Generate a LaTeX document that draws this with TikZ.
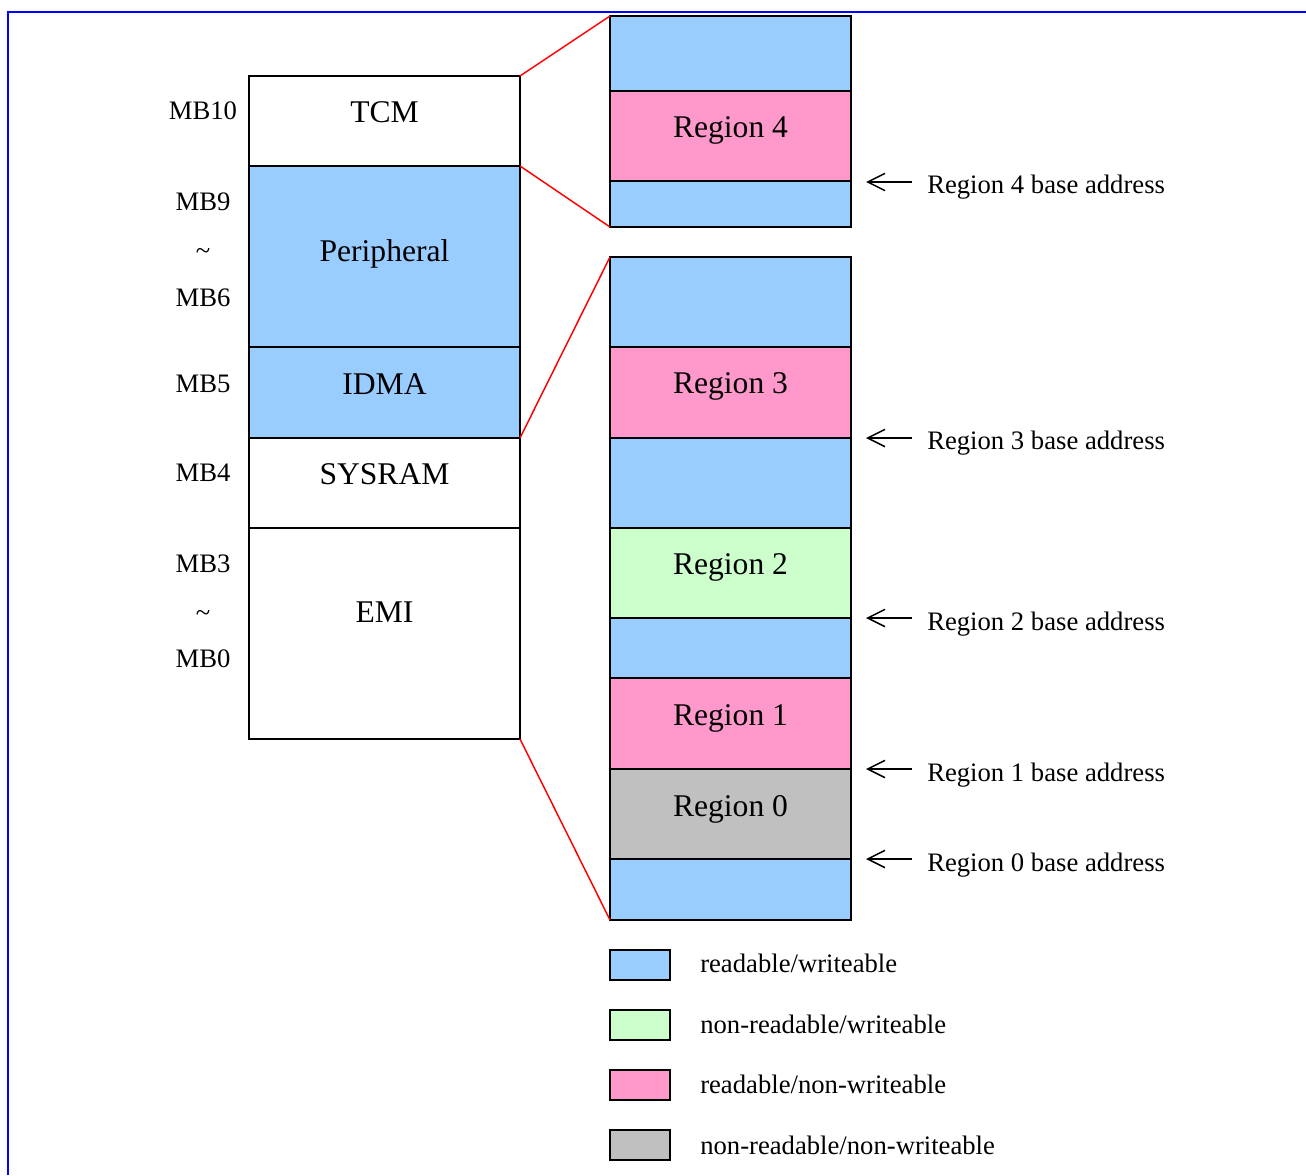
\documentclass[tikz,border=0pt]{standalone}
\usepackage{fontspec}
\setmainfont{Liberation Serif}
\usetikzlibrary{fit,arrows.meta}
\definecolor{rw}{HTML}{99CCFF}
\definecolor{nrw}{HTML}{CCFFCC}
\definecolor{rnw}{HTML}{FF99CC}
\definecolor{nrnw}{HTML}{C0C0C0}
\tikzset{
  blk/.style={draw=black, line width=1.5pt, inner sep=0pt, outer sep=0pt},
  big/.style={font=\fontsize{23.7}{28}\selectfont, anchor=base, inner sep=0pt},
  small/.style={font=\fontsize{20}{24}\selectfont, anchor=base, inner sep=0pt},
  zoomline/.style={draw=red, line width=1.1pt},
  baseptr/.style={draw=black, line width=1.1pt, -{Straight Barb[length=13pt,width=13pt,line width=1.1pt]}},
  frameline/.style={draw=blue, line width=2pt}
}
\begin{document}
\begin{tikzpicture}[x=0.75pt,y=-0.75pt]
\useasboundingbox (0,0) rectangle (1306,1175);
\draw[frameline] (8,1175) -- (8,12) -- (1306,12);

% left memory map
\node[blk, fill=white, fit={(249,76) (520,166)}] (tcm) {};
\node[blk, fill=rw, fit={(249,166) (520,347)}] (per) {};
\node[blk, fill=rw, fit={(249,347) (520,438)}] (idma) {};
\node[blk, fill=white, fit={(249,438) (520,528)}] (sysram) {};
\node[blk, fill=white, fit={(249,528) (520,739)}] (emi) {};
\node[big] (ttcm) at (384.5,122) {TCM};
\node[big] (tper) at (384.5,261) {Peripheral};
\node[big] (tidma) at (384.5,394) {IDMA};
\node[big] (tsys) at (384.5,484) {SYSRAM};
\node[big] (temi) at (384.5,622) {EMI};

\node[small] (mb10) at (203,119) {MB10};
\node[small] (mb9) at (203,210) {MB9};
\node[small] (til1) at (203,259) {\char`~};
\node[small] (mb6) at (203,306) {MB6};
\node[small] (mb5) at (203,392) {MB5};
\node[small] (mb4) at (203,481) {MB4};
\node[small] (mb3) at (203,572) {MB3};
\node[small] (til2) at (203,621) {\char`~};
\node[small] (mb0) at (203,667) {MB0};

% top right (TCM zoom)
\node[blk, fill=rw, fit={(610,16) (851,91)}] (t1) {};
\node[blk, fill=rnw, fit={(610,91) (851,181)}] (reg4) {};
\node[blk, fill=rw, fit={(610,181) (851,227)}] (t3) {};
\node[inner sep=0pt, outer sep=0pt, fit={(610,16) (851,227)}] (topbox) {};
\node[big] (treg4) at (730.5,137) {Region 4};

% bottom right (EMI..IDMA zoom)
\node[blk, fill=rw, fit={(610,257) (851,347)}] (b1) {};
\node[blk, fill=rnw, fit={(610,347) (851,438)}] (reg3) {};
\node[blk, fill=rw, fit={(610,438) (851,528)}] (b3) {};
\node[blk, fill=nrw, fit={(610,528) (851,618)}] (reg2) {};
\node[blk, fill=rw, fit={(610,618) (851,678)}] (b5) {};
\node[blk, fill=rnw, fit={(610,678) (851,769)}] (reg1) {};
\node[blk, fill=nrnw, fit={(610,769) (851,859)}] (reg0) {};
\node[blk, fill=rw, fit={(610,859) (851,920)}] (b8) {};
\node[inner sep=0pt, outer sep=0pt, fit={(610,257) (851,920)}] (botbox) {};
\node[big] (treg3) at (730.5,393) {Region 3};
\node[big] (treg2) at (730.5,574) {Region 2};
\node[big] (treg1) at (730.5,725) {Region 1};
\node[big] (treg0) at (730.5,816) {Region 0};

% zoom lines
\draw[zoomline] (tcm.north east) -- (topbox.north west);
\draw[zoomline] (tcm.south east) -- (topbox.south west);
\draw[zoomline] (idma.south east) -- (botbox.north west);
\draw[zoomline] (emi.south east) -- (botbox.south west);

% base address labels
\node[small, anchor=base west] (ba4) at (927,193) {Region 4 base address};
\node[small, anchor=base west] (ba3) at (927,449) {Region 3 base address};
\node[small, anchor=base west] (ba2) at (927,630) {Region 2 base address};
\node[small, anchor=base west] (ba1) at (927,781) {Region 1 base address};
\node[small, anchor=base west] (ba0) at (927,871) {Region 0 base address};
\foreach \n/\y in {4/182,3/438,2/618,1/769,0/859}{
  \coordinate (s\n) at (912,\y);
  \coordinate (e\n) at (866,\y);
  \draw[baseptr] (s\n) -- (e\n);
}

% legend
\node[blk, fill=rw, fit={(610,950) (670,980)}] (lg1) {};
\node[blk, fill=nrw, fit={(610,1010) (670,1040)}] (lg2) {};
\node[blk, fill=rnw, fit={(610,1070) (670,1100)}] (lg3) {};
\node[blk, fill=nrnw, fit={(610,1130) (670,1160)}] (lg4) {};
\node[small, anchor=base west] (lt1) at (700,972) {readable/writeable};
\node[small, anchor=base west] (lt2) at (700,1033) {non-readable/writeable};
\node[small, anchor=base west] (lt3) at (700,1093) {readable/non-writeable};
\node[small, anchor=base west] (lt4) at (700,1154) {non-readable/non-writeable};
\end{tikzpicture}
\end{document}
